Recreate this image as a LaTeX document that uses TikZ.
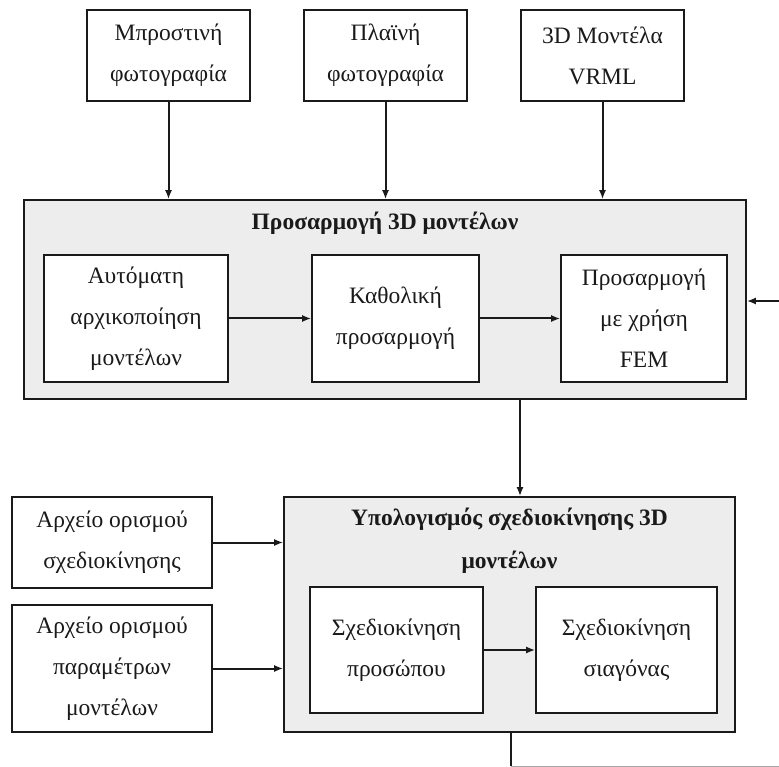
\documentclass[tikz,border=0pt]{standalone}
\usepackage{fontspec}
\setmainfont{Liberation Serif}
\usetikzlibrary{arrows.meta,calc}
\definecolor{boxgray}{HTML}{EDEDED}
\definecolor{ink}{HTML}{1A1A1A}
\begin{document}
\begin{tikzpicture}[x=1pt,y=-1pt,
  txt/.style={font=\fontsize{23.5}{41}\selectfont, align=center, text=ink},
  wbox/.style={txt, draw=ink, line width=1.6pt, fill=white, inner sep=0pt},
  gbox/.style={draw=ink, line width=1.6pt, fill=boxgray, inner sep=0pt},
  ttl/.style={txt, font=\fontsize{23.5}{43}\selectfont\bfseries},
  arr/.style={draw=ink, line width=2pt, -{Latex[length=9pt,width=7pt]}},
  ln/.style={draw=ink, line width=2pt}
]
\useasboundingbox (0,0) rectangle (779,767);
% top input boxes
\node[wbox, minimum width=163pt, minimum height=91pt] (t1) at (168.5,55.5) {Μπροστινή\\φωτογραφία};
\node[wbox, minimum width=163pt, minimum height=91pt] (t2) at (385.5,55.5) {Πλαϊνή\\φωτογραφία};
\node[wbox, minimum width=163pt, minimum height=91pt] (t3) at (602.5,55.5) {3D Μοντέλα\\VRML};
% big box 1
\node[gbox, minimum width=722pt, minimum height=199pt] (P) at (385,299.5) {};
\node[ttl] (Pt) at (385,223) {Προσαρμογή 3D μοντέλων};
\node[wbox, minimum width=184pt, minimum height=127pt] (A) at (136,318.5) {Αυτόματη\\αρχικοποίηση\\μοντέλων};
\node[wbox, minimum width=167pt, minimum height=127pt] (B) at (395.5,318.5) {Καθολική\\προσαρμογή};
\node[wbox, minimum width=166pt, minimum height=127pt] (C) at (644,318.5) {Προσαρμογή\\με χρήση\\FEM};
% big box 2
\node[gbox, minimum width=451pt, minimum height=235pt] (Q) at (509.5,614.5) {};
\node[ttl] (Qt) at (509.5,540.5) {Υπολογισμός σχεδιοκίνησης 3D\\μοντέλων};
\node[wbox, minimum width=173pt, minimum height=126pt] (D) at (396.5,650) {Σχεδιοκίνηση\\προσώπου};
\node[wbox, minimum width=181pt, minimum height=126pt] (E) at (626.5,650) {Σχεδιοκίνηση\\σιαγόνας};
% left input boxes
\node[wbox, minimum width=200pt, minimum height=91pt] (F) at (112,542.5) {Αρχείο ορισμού\\σχεδιοκίνησης};
\node[wbox, minimum width=200pt, minimum height=127pt] (G) at (112,668.5) {Αρχείο ορισμού\\παραμέτρων\\μοντέλων};
% connectors
\draw[arr] (t1.south) -- (t1.south |- P.north);
\draw[arr] (t2.south) -- (t2.south |- P.north);
\draw[arr] (t3.south) -- (t3.south |- P.north);
\draw[arr] (A.east) -- (A.east -| B.west);
\draw[arr] (B.east) -- (B.east -| C.west);
\coordinate (pq) at (520,0);
\draw[arr] (P.south -| pq) -- (Q.north -| pq);
\draw[arr] (F.east) -- (F.east -| Q.west);
\draw[arr] (G.east) -- (G.east -| Q.west);
\draw[arr] (D.east) -- (D.east -| E.west);
\coordinate (rin) at (779,301);
\draw[arr] (rin) -- (rin -| P.east);
\coordinate (out) at (511,766);
\coordinate (edge) at (779,766);
\draw[ln] (Q.south -| out) -- (out);
\draw[draw=gray!70, line width=1pt] (out) -- (edge);
\end{tikzpicture}
\end{document}
